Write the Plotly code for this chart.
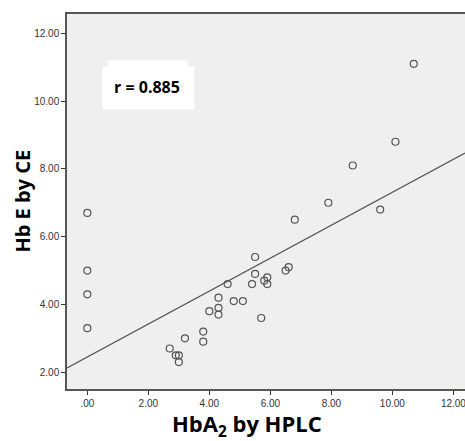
import plotly.graph_objects as go

# Data (HbA2 by HPLC vs Hb E by CE)
hba2_hplc = [0.0, 0.0, 0.0, 0.0,
             2.7, 2.9, 3.0, 3.0, 3.2, 3.8, 3.8, 4.0, 4.3, 4.3, 4.3,
             4.6, 4.8, 5.1, 5.4, 5.5, 5.5, 5.7, 5.8, 5.9, 5.9,
             6.5, 6.6, 6.8, 7.9, 8.7, 9.6, 10.1, 10.7]
hbe_ce = [6.7, 5.0, 4.3, 3.3,
          2.7, 2.5, 2.5, 2.3, 3.0, 3.2, 2.9, 3.8, 4.2, 3.9, 3.7,
          4.6, 4.1, 4.1, 4.6, 5.4, 4.9, 3.6, 4.7, 4.8, 4.6,
          5.0, 5.1, 6.5, 7.0, 8.1, 6.8, 8.8, 11.1]

fit_intercept = 2.45
fit_slope = 0.486
r_label = "r = 0.885"

x_range = [-0.666, 12.38]
y_range = [1.505, 12.57]

x_tickvals = [0, 2, 4, 6, 8, 10, 12]
x_ticktext = [".00", "2.00", "4.00", "6.00", "8.00", "10.00", "12.00"]
y_tickvals = [2, 4, 6, 8, 10, 12]
y_ticktext = ["2.00", "4.00", "6.00", "8.00", "10.00", "12.00"]

line_color = "#555555"

fig = go.Figure()

fit_x = x_range
fit_y = [fit_intercept + fit_slope * v for v in fit_x]
fig.add_trace(go.Scatter(
    x=fit_x, y=fit_y, mode="lines",
    line=dict(color="#555555", width=1.3),
    hoverinfo="skip", showlegend=False, cliponaxis=True))

fig.add_trace(go.Scatter(
    x=hba2_hplc, y=hbe_ce, mode="markers",
    marker=dict(symbol="circle-open", size=7, color="#555555",
                line=dict(width=1.2, color="#555555")),
    showlegend=False))

# white label box for r
fig.add_shape(type="rect", xref="x", yref="y", x0=0.49, x1=3.51, y0=9.76, y1=11.02,
              fillcolor="white", line=dict(width=0), layer="above")
fig.add_shape(type="rect", xref="x", yref="y", x0=0.66, x1=3.28, y0=11.0, y1=11.2,
              fillcolor="white", line=dict(width=0), layer="above")
fig.add_annotation(x=1.97, y=10.42, xref="x", yref="y", text="<b>" + r_label + "</b>",
                   showarrow=False, font=dict(family="Open Sans", size=16, color="black"))

# axis titles
fig.add_annotation(x=-0.111, y=0.502, xref="paper", yref="paper",
                   text="<b>Hb E by CE</b>", textangle=-90, showarrow=False,
                   font=dict(family="Open Sans", size=20, color="black"),
                   xanchor="center", yanchor="middle")
fig.add_annotation(x=0.452, y=-0.096, xref="paper", yref="paper",
                   text="<b>HbA<sub>2</sub> by HPLC</b>", showarrow=False,
                   font=dict(family="Open Sans", size=22, color="black"),
                   xanchor="center", yanchor="middle")

fig.update_layout(
    width=472, height=441,
    margin=dict(l=67, r=7, t=14, b=52),
    paper_bgcolor="white", plot_bgcolor="#efefef",
    font=dict(family="Liberation Sans", size=10, color="#333333"),
    xaxis=dict(range=x_range, tickvals=x_tickvals, ticktext=x_ticktext,
               showgrid=False, zeroline=False, showline=True, linecolor=line_color,
               linewidth=1.5, mirror=True, ticks="outside", ticklen=4, tickwidth=1.3,
               tickcolor="#333333", tickfont=dict(size=10, color="#333333")),
    yaxis=dict(range=y_range, tickvals=y_tickvals, ticktext=y_ticktext,
               showgrid=False, zeroline=False, showline=True, linecolor=line_color,
               linewidth=1.5, mirror=False, ticks="outside", ticklen=4, tickwidth=1.3,
               tickcolor="#333333", tickfont=dict(size=10, color="#333333")),
)

fig.write_html("out.html", config={"displayModeBar": False},
               post_script="document.body.style.margin='0';document.body.style.overflow='hidden';")
